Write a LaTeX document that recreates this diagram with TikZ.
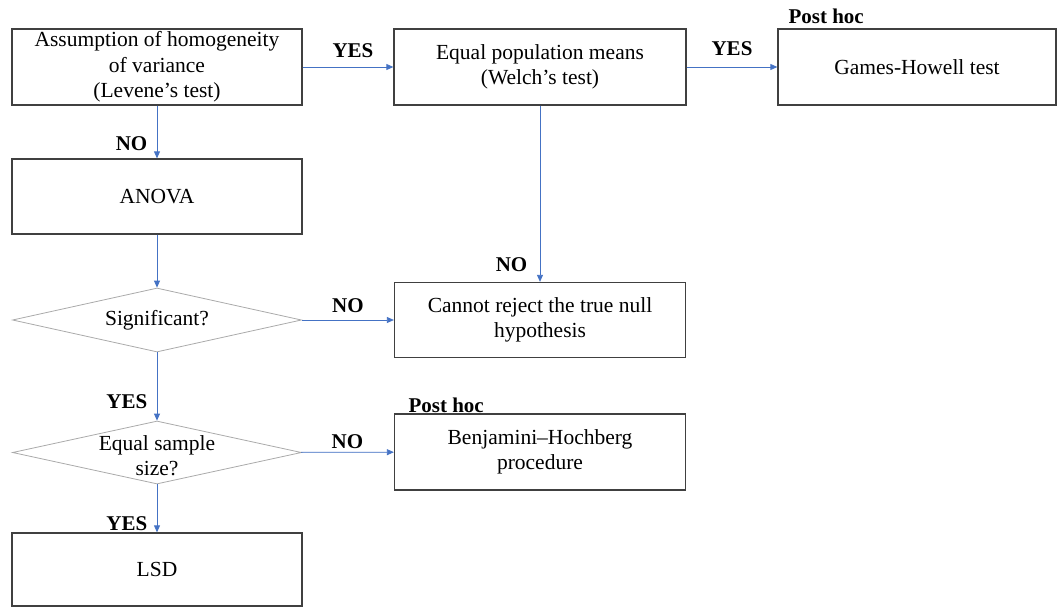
\documentclass[tikz,border=0pt]{standalone}
\usepackage{fontspec}
\setmainfont{Liberation Serif}
\usetikzlibrary{shapes.geometric,arrows.meta}

\definecolor{flowblue}{RGB}{68,114,196}
\definecolor{boxgray}{RGB}{64,64,64}
\definecolor{diagray}{RGB}{170,170,170}

\begin{document}
\begin{tikzpicture}[x=1pt, y=-1pt,
        >={Triangle[length=7pt,width=6pt]},
        box/.style={draw=boxgray, line width=1.3pt, minimum width=290pt, minimum height=76pt,
            inner sep=0pt, align=center, font=\fontsize{21.5}{25.5}\selectfont},
        decision/.style={diamond, draw=diagray, line width=0.8pt, minimum width=289pt,
            minimum height=64pt, inner sep=0pt},
        dtext/.style={align=center, font=\fontsize{21.5}{25.5}\selectfont},
        flow/.style={->, draw=flowblue, fill=flowblue, line width=0.8pt},
        tag/.style={font=\bfseries\fontsize{21}{25}\selectfont, text=black}]
            \useasboundingbox (0,0) rectangle (1058,608);

            % first row
            \node[box] (levene) at (157,67) {Assumption of homogeneity\\of variance\\(Levene’s test)};
            \node[box, minimum width=292pt] (welch) at (540,67) {Equal population means\\(Welch’s test)};
            \node[box, minimum width=278pt] (games) at (917,67) {Games-Howell test};
            \node[tag, anchor=base west] (phgames) at (785,23) {Post hoc};

            % left column
            \node[box, minimum height=75pt] (anova) at (157,196.5) {ANOVA};
            \node[decision, label={[dtext]center:Significant?}] (signif) at (157,320) {};
            \node[decision, minimum height=63pt, label={[dtext, yshift=-3pt]center:Equal sample\\size?}] (samesize) at (157,452.5) {};
            \node[box, minimum height=73pt] (lsd) at (157,569.5) {LSD};

            % middle column
            \node[box, minimum width=291pt, minimum height=75pt] (noreject) at (540,320) {Cannot reject the true null\\hypothesis};
            \node[box, minimum width=291pt] (benjamini) at (540,452) {Benjamini–Hochberg\\procedure};
            \node[tag, anchor=base west] (phbenj) at (405,412) {Post hoc};

            \draw[flow] (levene) -- (welch) node[tag, midway, above, yshift=6pt, xshift=5pt] {YES};
            \draw[flow] (welch) -- (games) node[tag, midway, above, yshift=8pt] {YES};
            \draw[flow] (levene) -- (anova) node[tag, pos=0.72, left=6pt] {NO};
            \draw[flow] (anova) -- (signif);
            \draw[flow] (signif) -- (noreject) node[tag, midway, above, yshift=4pt] {NO};
            \draw[flow] (welch) -- (noreject) node[tag, pos=0.9, left=9pt] {NO};
            \draw[flow] (signif) -- (samesize) node[tag, pos=0.72, left=6pt] {YES};
            \draw[flow] (samesize) -- (benjamini) node[tag, midway, above] {NO};
            \draw[flow] (samesize) -- (lsd) node[tag, pos=0.82, left=6pt] {YES};
        \end{tikzpicture}
\end{document}
